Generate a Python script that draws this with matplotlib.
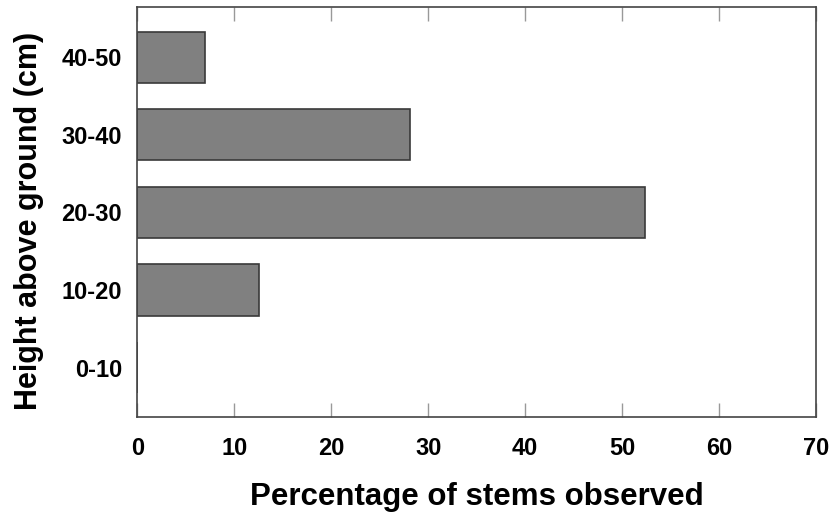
import matplotlib
matplotlib.use("Agg")
import matplotlib.pyplot as plt

# Percentage of stems by height class
heights = ["0-10", "10-20", "20-30", "30-40", "40-50"]
percent = [0.0, 12.6, 52.4, 28.1, 7.0]

plt.rcParams.update({
    "font.family": "Liberation Sans",
    "font.weight": "bold",
})

fig = plt.figure(figsize=(8.32, 5.17), dpi=100)
ax = fig.add_axes([0.165, 0.193, 0.816, 0.7925])

ax.barh(range(len(heights)), percent, height=0.66,
        color="#808080", edgecolor="#3a3a3a", linewidth=1.2)

ax.set_xlim(0, 70)
ax.set_ylim(-0.64, 4.64)
ax.set_xticks(range(0, 71, 10))
ax.set_yticks(range(len(heights)))
ax.set_yticklabels(heights)

ax.tick_params(axis="x", direction="in", length=10, width=1, color="#999999",
               top=True, labelsize=17, pad=14)
ax.tick_params(axis="y", length=0, labelsize=17, pad=11)
for lbl in ax.get_xticklabels() + ax.get_yticklabels():
    lbl.set_fontweight("bold")

for sp in ax.spines.values():
    sp.set_color("#444444")
    sp.set_linewidth(1.2)

ax.set_xlabel("Percentage of stems observed", fontsize=22.5, fontweight="bold", labelpad=16)
ax.set_ylabel("Height above ground (cm)", fontsize=22, fontweight="bold", labelpad=13)
ax.yaxis.set_label_coords(-0.137, 0.48)

fig.savefig("out.png", dpi=100)
plt.close(fig)
